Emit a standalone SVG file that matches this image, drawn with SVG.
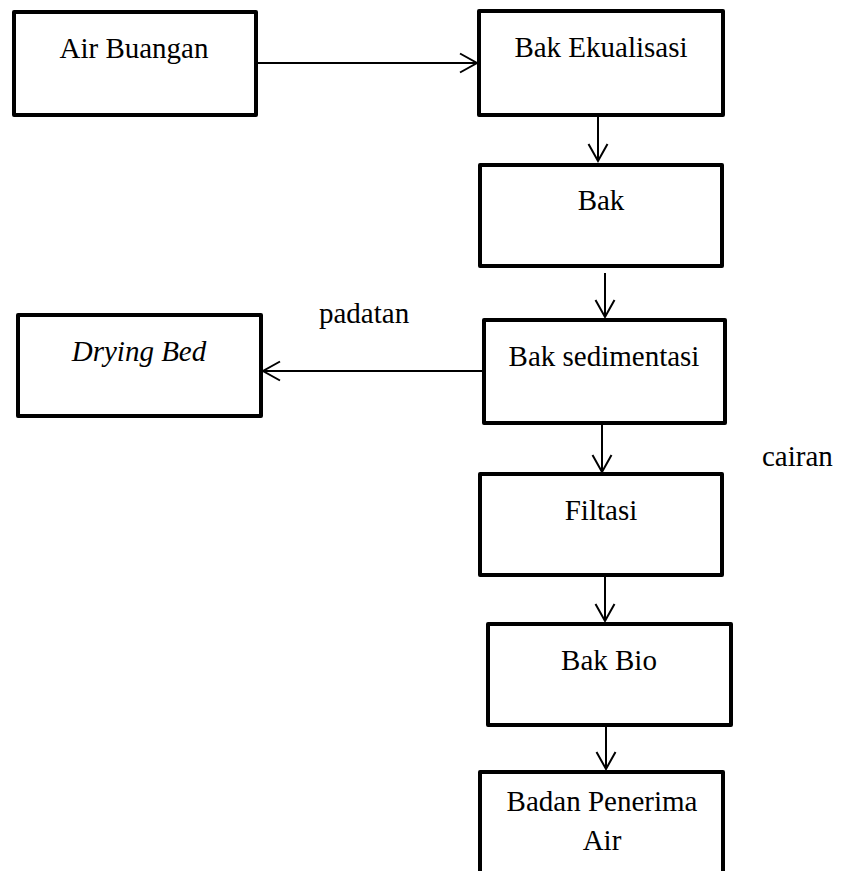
<svg xmlns="http://www.w3.org/2000/svg" width="844" height="871" viewBox="0 0 844 871">
  <style>
    .box { fill: #ffffff; stroke: #000000; stroke-width: 4; stroke-linejoin: round; }
    .lbl { font-family: "Liberation Serif", "Times New Roman", serif; font-size: 29px; fill: #000000; text-anchor: middle; }
    .side { font-family: "Liberation Serif", "Times New Roman", serif; font-size: 29px; fill: #000000; }
    .it { font-style: italic; }
    .conn { fill: none; stroke: #000000; stroke-width: 2; }
  </style>
  <defs>
    <marker id="open" markerUnits="userSpaceOnUse" markerWidth="22" markerHeight="24" viewBox="-2 -2 22 24" refX="17" refY="9.5" orient="auto">
      <path d="M0,0 L17,9.5 L0,19" fill="none" stroke="#000000" stroke-width="2"/>
    </marker>
  </defs>

  <rect width="844" height="871" fill="#ffffff"/>

  <!-- flow connectors -->
  <g id="connectors">
    <line class="conn" x1="258" y1="63" x2="477" y2="63" marker-end="url(#open)"/>
    <line class="conn" x1="598" y1="117" x2="598" y2="161" marker-end="url(#open)"/>
    <line class="conn" x1="605" y1="273" x2="605" y2="317" marker-end="url(#open)"/>
    <line class="conn" x1="482" y1="371" x2="263" y2="371" marker-end="url(#open)"/>
    <line class="conn" x1="602" y1="425" x2="602" y2="472" marker-end="url(#open)"/>
    <line class="conn" x1="605" y1="577" x2="605" y2="621" marker-end="url(#open)"/>
    <line class="conn" x1="606" y1="727" x2="606" y2="769" marker-end="url(#open)"/>
    <text class="side" x="319" y="323">padatan</text>
    <text class="side" x="762" y="466">cairan</text>
  </g>

  <g id="air-buangan">
    <rect class="box" x="14" y="12" width="242" height="103"/>
    <text class="lbl" x="134" y="58">Air Buangan</text>
  </g>

  <g id="bak-ekualisasi">
    <rect class="box" x="479" y="11" width="244" height="104"/>
    <text class="lbl" x="601" y="57">Bak Ekualisasi</text>
  </g>

  <g id="bak">
    <rect class="box" x="480" y="165" width="242" height="101"/>
    <text class="lbl" x="601" y="210">Bak</text>
  </g>

  <g id="bak-sedimentasi">
    <rect class="box" x="484" y="320" width="241" height="103"/>
    <text class="lbl" x="604" y="366">Bak sedimentasi</text>
  </g>

  <g id="drying-bed">
    <rect class="box" x="18" y="315" width="243" height="101"/>
    <text class="lbl it" x="139" y="361">Drying Bed</text>
  </g>

  <g id="filtasi">
    <rect class="box" x="480" y="474" width="242" height="101"/>
    <text class="lbl" x="601" y="520">Filtasi</text>
  </g>

  <g id="bak-bio">
    <rect class="box" x="488" y="624" width="243" height="101"/>
    <text class="lbl" x="609" y="670">Bak Bio</text>
  </g>

  <g id="badan-penerima-air">
    <rect class="box" x="480" y="772" width="243" height="120"/>
    <text class="lbl" x="602" y="811">Badan Penerima</text>
    <text class="lbl" x="602" y="850">Air</text>
  </g>
</svg>
